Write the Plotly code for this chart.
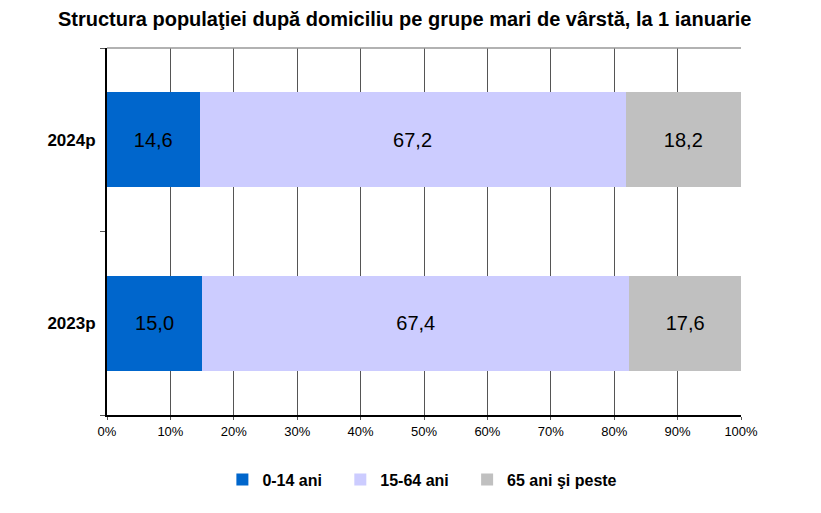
import plotly.graph_objects as go

years = ["2023p", "2024p"]
grp_0_14 = [15.0, 14.6]
grp_15_64 = [67.4, 67.2]
grp_65 = [17.6, 18.2]
names = ["0-14 ani", "15-64 ani", "65 ani şi peste"]
colors = ["#0066CC", "#CCCCFF", "#C0C0C0"]
legend_x = [0.182, 0.368, 0.568]  # one small legend per series


def lbl(v):
    return f"{v:.1f}".replace(".", ",")


fig = go.Figure()
for i, (name, vals, col) in enumerate(zip(names, [grp_0_14, grp_15_64, grp_65], colors)):
    fig.add_trace(go.Bar(
        y=years, x=vals, name=name, orientation="h",
        marker=dict(color=col, line=dict(width=0)),
        text=[lbl(v) for v in vals], textposition="inside",
        insidetextanchor="middle",
        textfont=dict(family="Liberation Sans, Arial", size=20, color="black"),
        hoverinfo="skip",
        legend="legend" if i == 0 else f"legend{i + 1}",
    ))

# page body adds 8px offset, so the figure is a bit smaller than the window
leg = dict(orientation="h", xanchor="left", y=-0.176, yanchor="middle",
           font=dict(size=16, weight="bold"), itemwidth=30)
fig.update_layout(
    barmode="stack",
    bargap=0.48,
    width=813, height=505,
    margin=dict(l=99, r=80, t=40, b=98),
    paper_bgcolor="white", plot_bgcolor="white",
    font=dict(family="Liberation Sans, Arial", color="black"),
    title=dict(text="<b>Structura populaţiei după domiciliu pe grupe mari de vârstă, la 1 ianuarie</b>",
               x=0.488, xanchor="center", y=0.978, yanchor="middle",
               font=dict(size=20, color="black")),
    legend=dict(leg, x=legend_x[0]),
    legend2=dict(leg, x=legend_x[1]),
    legend3=dict(leg, x=legend_x[2]),
    showlegend=True,
)
fig.update_xaxes(
    range=[0, 100], dtick=10, ticksuffix="%",
    showgrid=True, gridcolor="#555555", gridwidth=1,
    showline=True, linecolor="black", linewidth=2,
    ticks="outside", ticklen=3, tickcolor="#555555",
    tickfont=dict(size=13), zeroline=False, automargin=False,
)
fig.update_yaxes(
    type="category", tickson="boundaries",
    showgrid=False, showline=True, linecolor="black", linewidth=2,
    ticks="outside", ticklen=5, tickcolor="#555555",
    tickfont=dict(size=17, weight="bold"),
    ticklabelstandoff=6, automargin=False,
)
# gray border along top of plot
fig.add_shape(type="line", xref="paper", yref="paper", x0=0, x1=1, y0=1, y1=1,
              line=dict(color="#999999", width=1.5))

fig.write_html("out.html")
